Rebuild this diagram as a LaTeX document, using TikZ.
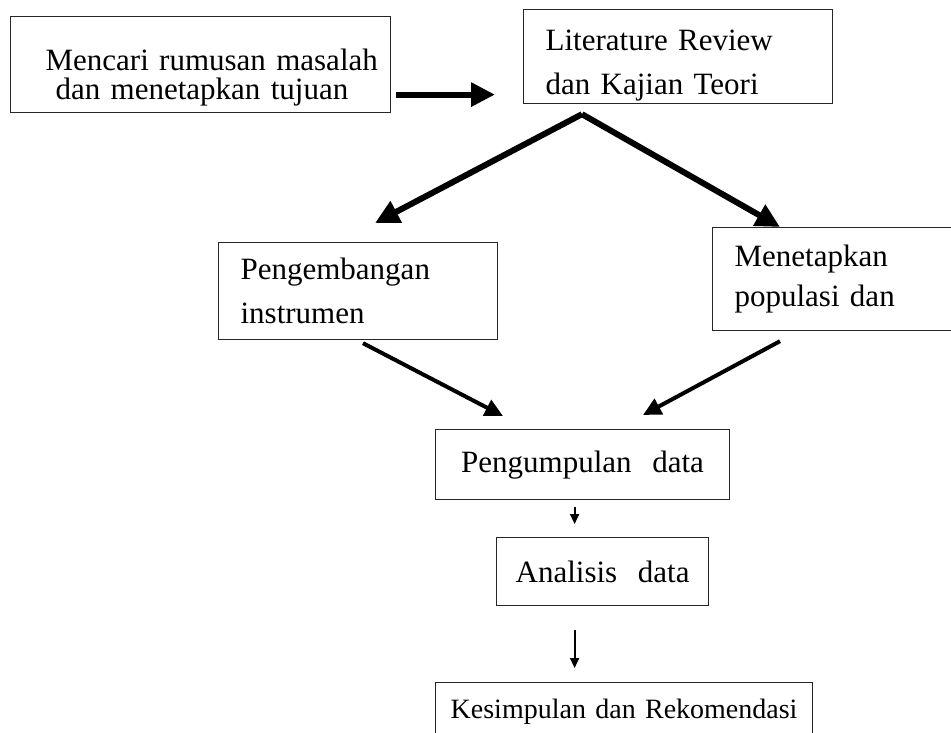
\documentclass[tikz,border=0pt]{standalone}
\usepackage{fontspec}
\setmainfont{Liberation Serif}
\usepackage{tikz}
\usetikzlibrary{arrows.meta}

\tikzset{
  box/.style={draw=black!85, line width=1.2pt, anchor=north west, align=left,
    inner ysep=0pt, font=\fontsize{31}{44}\selectfont},
  bigarrow/.style={line width=6pt, -{Triangle[length=24pt,width=23pt]}},
  midarrow/.style={line width=4pt, -{Triangle[length=18pt,width=17pt]}},
  smallarrow/.style={line width=2pt, -{Triangle[length=10pt,width=9pt]}},
}

\begin{document}
\begin{tikzpicture}[x=1pt,y=-1pt]
    \useasboundingbox (0,0) rectangle (951,733);
    % boxes
    \node [box, inner xsep=0pt, text width=380pt, text height=54pt, text depth=42pt,
      font=\fontsize{31}{29}\selectfont] (masalah) at (10,16)
      {\hspace*{35pt}Mencari rumusan masalah\\\hspace*{45pt}dan menetapkan tujuan};
    \node [box, inner xsep=22pt, text width=265pt, text height=41pt, text depth=53pt] (teori) at (523,9)
      {Literature Review\\dan Kajian Teori};
    \node [box, inner xsep=22pt, text width=235pt, minimum height=97pt] (instrumen) at (218,242)
      {Pengembangan\\instrumen};
    \node [box, inner xsep=22pt, text width=300pt, minimum height=103pt,
      font=\fontsize{31}{40}\selectfont] (populasi) at (712,227)
      {Menetapkan\\populasi dan};
    \node [box, align=center, inner xsep=10pt, text width=274pt, minimum height=70pt] (pengumpulan) at (435,429)
      {Pengumpulan\ \ data};
    \node [box, align=center, inner xsep=10pt, text width=192pt, minimum height=68pt] (analisis) at (496,537)
      {Analisis\ \ data};
    \node [box, align=center, inner xsep=4pt, text width=369pt, minimum height=58pt,
      font=\fontsize{28}{40}\selectfont] (kesimpulan) at (435,682)
      {Kesimpulan dan Rekomendasi};
    % arrows
    \draw [bigarrow, shorten <=5pt, shorten >=28pt]
      ([yshift=-30pt]masalah.east) -- ([yshift=-30pt]masalah.east -| teori.west);
    \coordinate (split) at ([xshift=59pt,yshift=-10pt]teori.south west);
    \draw [bigarrow] (split) -- ([xshift=157pt,yshift=19pt]instrumen.north west);
    \draw [bigarrow] (split) -- ([xshift=68pt]populasi.north west);
    \draw [midarrow] ([xshift=145pt,yshift=-3pt]instrumen.south west)
      -- ([xshift=68pt,yshift=13pt]pengumpulan.north west);
    \draw [midarrow] ([xshift=68pt,yshift=-10pt]populasi.south west)
      -- ([xshift=208pt,yshift=14pt]pengumpulan.north west);
    \draw [smallarrow, shorten <=7pt, shorten >=13pt]
      ([xshift=-8pt]pengumpulan.south) -- ([xshift=-8pt]pengumpulan.south |- analisis.north);
    \draw [smallarrow, shorten <=24pt, shorten >=14pt]
      ([xshift=-28pt]analisis.south) -- ([xshift=-28pt]analisis.south |- kesimpulan.north);
\end{tikzpicture}
\end{document}
